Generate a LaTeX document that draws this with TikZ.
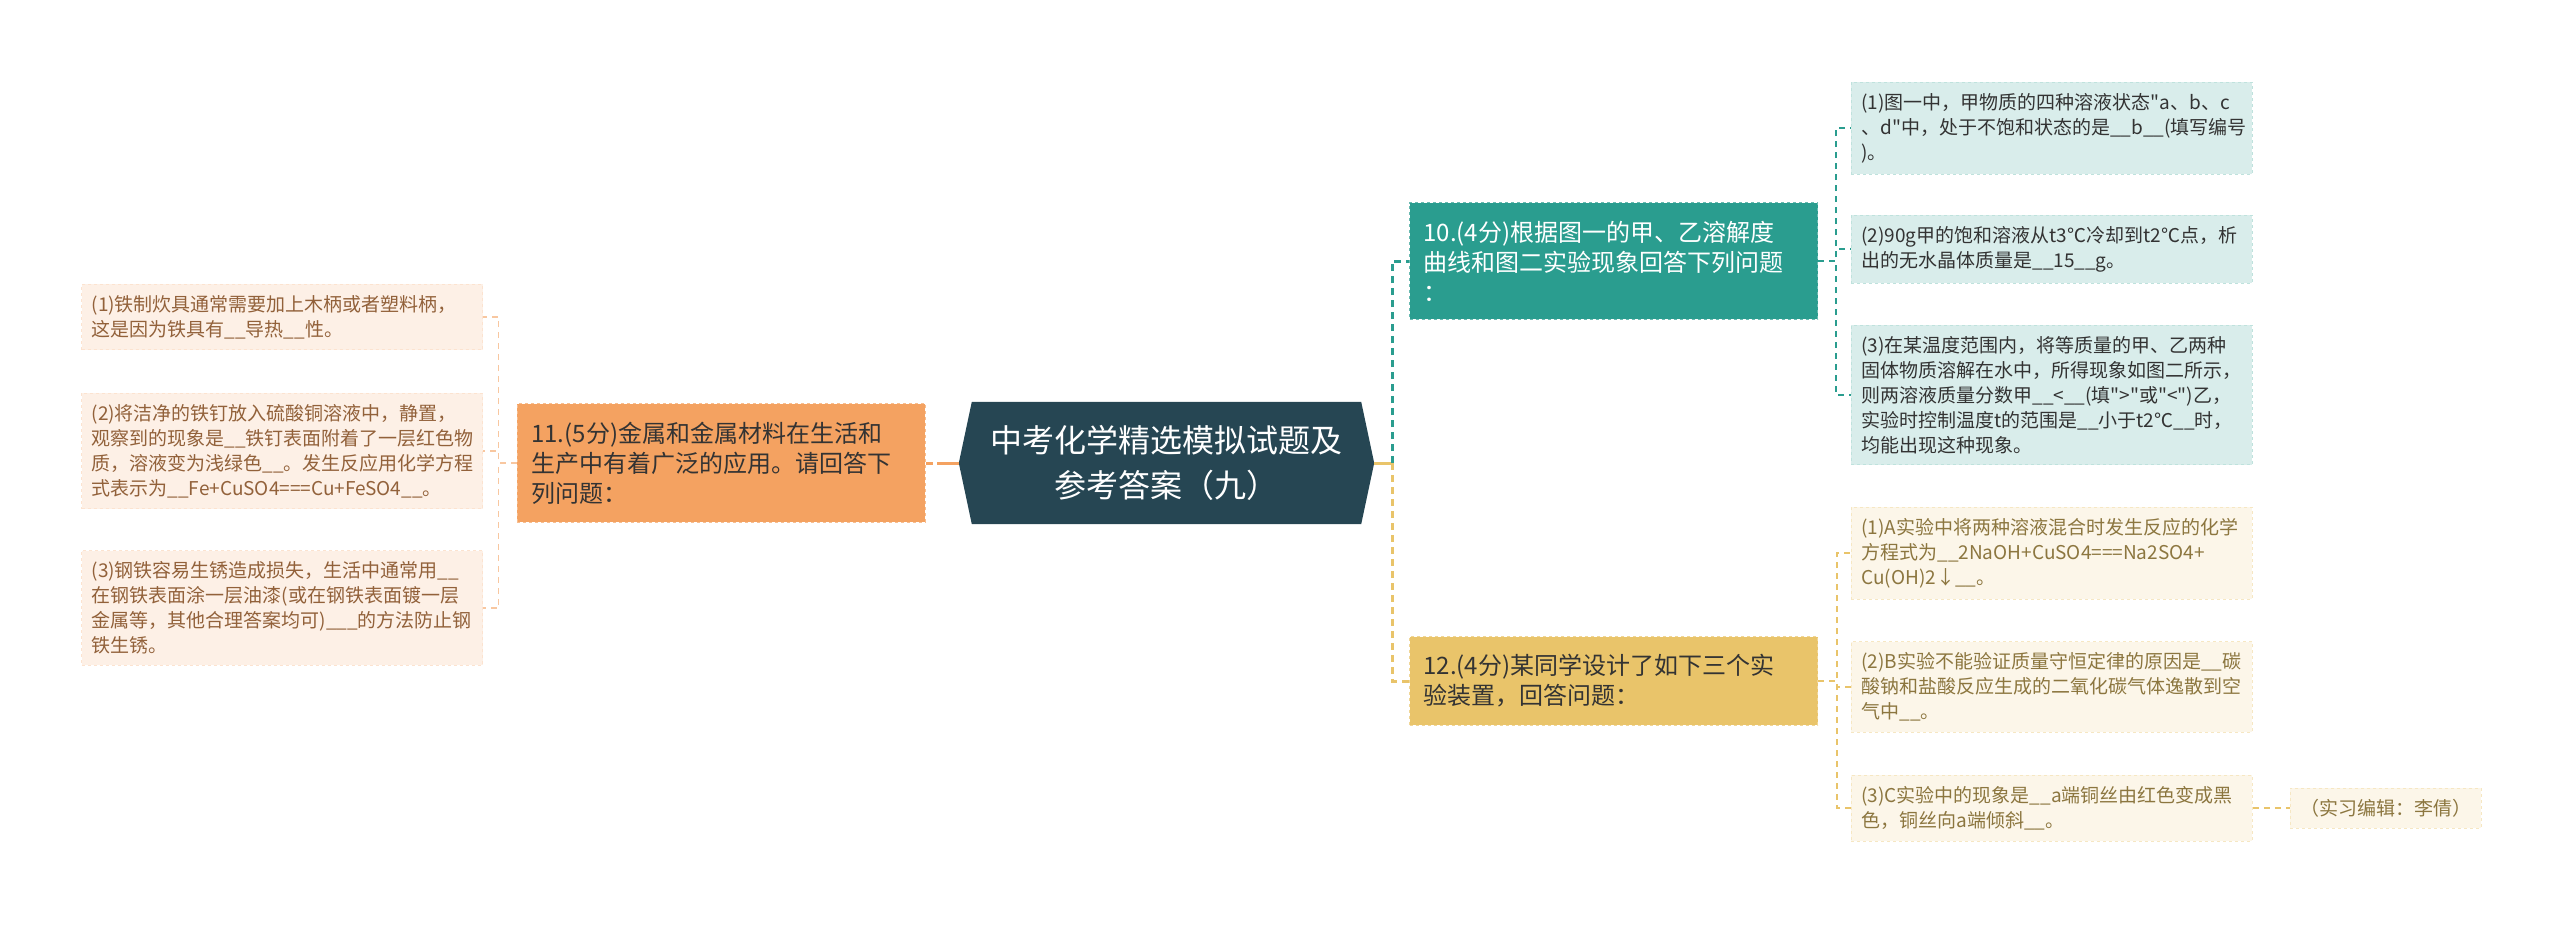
\documentclass[tikz,border=0pt]{standalone}
\usepackage{fontspec}
\setmainfont{Noto Sans CJK SC}[Ligatures=TeXOff]
\usepackage{tikz}
\usetikzlibrary{positioning,calc,backgrounds}
\usepackage{xcolor}
\definecolor{cRoot}{RGB}{38,70,83}
\definecolor{cTeal}{RGB}{42,157,143}
\definecolor{cSand}{RGB}{233,196,106}
\definecolor{cOrange}{RGB}{244,162,97}

\begin{document}
\begin{tikzpicture}[
  x=1pt, y=-1pt,
  font=\fontsize{19}{25}\selectfont,
  root/.style={minimum width=415pt, minimum height=122pt, inner sep=0pt,
    align=center, text=white, font=\fontsize{32}{45}\selectfont},
  topic/.style={rectangle, draw=#1!70!white, dashed, line width=1pt, fill=#1,
    align=left, text width=380pt, inner xsep=14pt, inner ysep=18pt,
    font=\fontsize{24}{30}\selectfont, text=black!80},
  box/.style={rectangle, dashed, line width=0.8pt, align=left,
    inner xsep=10pt, inner ysep=11pt},
  leafL/.style={box, draw=cOrange!30!white, fill=cOrange!16!white,
    text=cOrange!60!black, text width=381pt},
  leafR/.style={box, draw=cTeal!30!white, fill=cTeal!18!white,
    text=black!80, text width=381pt},
  leafY/.style={box, draw=cSand!40!white, fill=cSand!15!white,
    text=cSand!60!black, text width=381pt},
  noteY/.style={box, draw=cSand!40!white, fill=cSand!15!white,
    text=cSand!60!black},
  main/.style={line width=3pt, dash pattern=on 7pt off 5pt},
  linkL/.style={draw=cOrange!60!white, line width=1.3pt, dash pattern=on 6pt off 5pt},
  linkT/.style={draw=cTeal, line width=1.3pt, dash pattern=on 6pt off 5pt},
  linkY/.style={draw=cSand, line width=1.3pt, dash pattern=on 6pt off 5pt},
]
\useasboundingbox (0,0) rectangle (2560,924);

% centre
\node[root] (root) at (1166.5,463) {中考化学精选模拟试题及\\参考答案（九）};
\begin{scope}[on background layer]
\fill[cRoot] ($(root.north west)+(13,0)$) -- ($(root.north east)+(-13,0)$)
  -- (root.east) -- ($(root.south east)+(-13,0)$)
  -- ($(root.south west)+(13,0)$) -- (root.west) -- cycle;
\end{scope}

% topics
\node[topic=cOrange, left=33pt of root] (q11) {11.(5分)金属和金属材料在生活和\\生产中有着广泛的应用。请回答下\\列问题：};
\node[topic=cTeal, text=white, anchor=west] (q10) at (1409,261) {10.(4分)根据图一的甲、乙溶解度\\曲线和图二实验现象回答下列问题\\：};
\node[topic=cSand, anchor=west] (q12) at (1409,681) {12.(4分)某同学设计了如下三个实\\验装置，回答问题：};

% left leaves
\node[leafL, anchor=east] (a1) at (483,317) {(1)铁制炊具通常需要加上木柄或者塑料柄，\\这是因为铁具有\_\_导热\_\_性。};
\node[leafL, anchor=east] (a2) at (483,451) {(2)将洁净的铁钉放入硫酸铜溶液中，静置，\\观察到的现象是\_\_铁钉表面附着了一层红色物\\质，溶液变为浅绿色\_\_。发生反应用化学方程\\式表示为\_\_Fe+CuSO4===Cu+FeSO4\_\_。};
\node[leafL, anchor=east] (a3) at (483,608) {(3)钢铁容易生锈造成损失，生活中通常用\_\_\\在钢铁表面涂一层油漆(或在钢铁表面镀一层\\金属等，其他合理答案均可)\_\_\_的方法防止钢\\铁生锈。};

% right leaves, question 10
\node[leafR, anchor=west] (b1) at (1851,128) {(1)图一中，甲物质的四种溶液状态"a、b、c\\、d"中，处于不饱和状态的是\_\_b\_\_(填写编号\\)。};
\node[leafR, anchor=west] (b2) at (1851,249) {(2)90g甲的饱和溶液从t3℃冷却到t2℃点，析\\出的无水晶体质量是\_\_15\_\_g。};
\node[leafR, anchor=west] (b3) at (1851,395) {(3)在某温度范围内，将等质量的甲、乙两种\\固体物质溶解在水中，所得现象如图二所示，\\则两溶液质量分数甲\_\_<\_\_(填">"或"<")乙，\\实验时控制温度t的范围是\_\_小于t2℃\_\_时，\\均能出现这种现象。};

% right leaves, question 12
\node[leafY, anchor=west] (c1) at (1851,553) {(1)A实验中将两种溶液混合时发生反应的化学\\方程式为\_\_2NaOH+CuSO4===Na2SO4+\\Cu(OH)2↓\_\_。};
\node[leafY, anchor=west] (c2) at (1851,687) {(2)B实验不能验证质量守恒定律的原因是\_\_碳\\酸钠和盐酸反应生成的二氧化碳气体逸散到空\\气中\_\_。};
\node[leafY, anchor=west] (c3) at (1851,808) {(3)C实验中的现象是\_\_a端铜丝由红色变成黑\\色，铜丝向a端倾斜\_\_。};
\node[noteY, right=37pt of c3] (c4) {（实习编辑：李倩）};

% links
\draw[main, draw=cOrange, dash pattern=on 22pt off 4pt] (root.west) -- (q11.east);
\draw[line width=3pt, draw=cSand] (root.east) -- ++(18,0) coordinate (hub);
\draw[main, draw=cTeal] (hub) |- (q10.west);
\draw[main, draw=cSand] (hub) |- (q12.west);

\foreach \leaf in {a1,a2,a3}
  \draw[linkL] (q11.west) -- ++(-18,0) |- (\leaf.east);
\foreach \leaf in {b1,b2,b3}
  \draw[linkT] (q10.east) -- ++(18,0) |- (\leaf.west);
\foreach \leaf in {c1,c2,c3}
  \draw[linkY] (q12.east) -- ++(19,0) |- (\leaf.west);
\draw[linkY] (c3.east) -- (c4.west);
\end{tikzpicture}
\end{document}
